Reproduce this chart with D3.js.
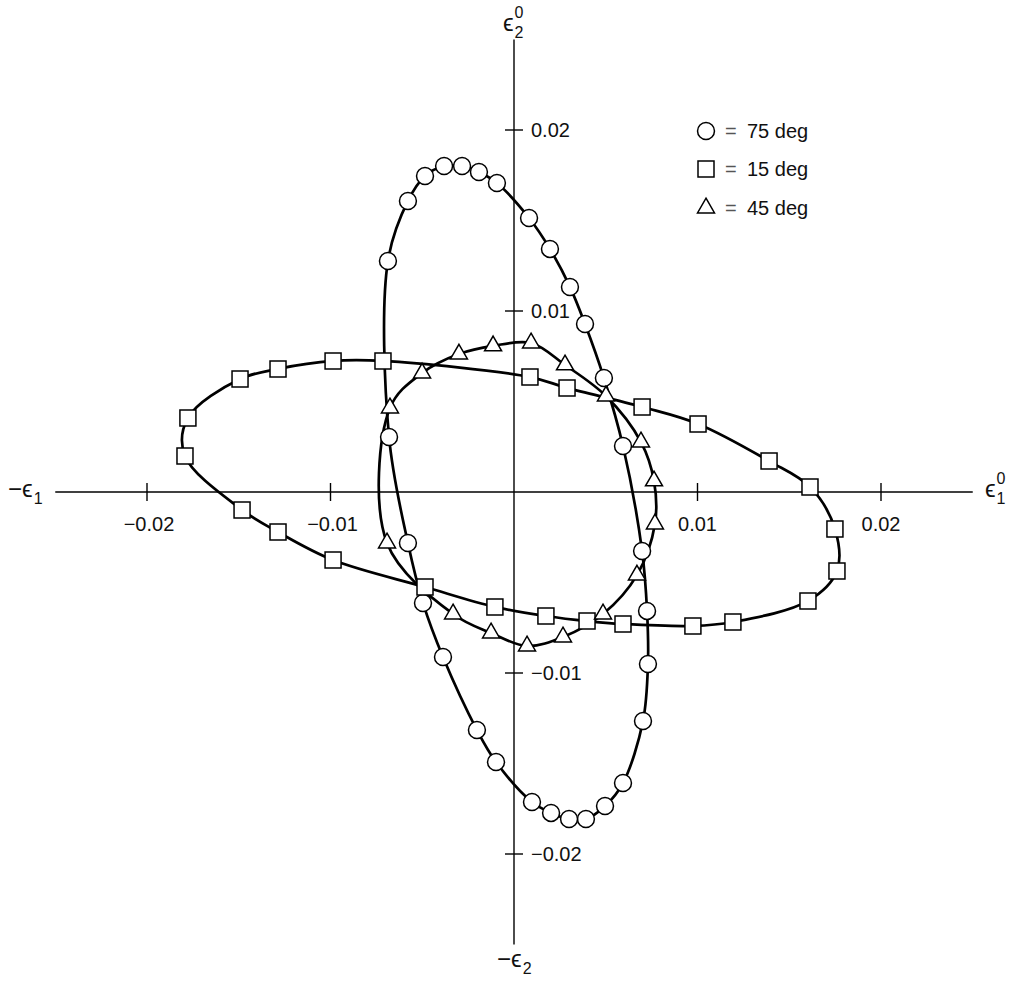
<!DOCTYPE html>
<html>
<head>
<meta charset="utf-8">
<script src="https://cdn.jsdelivr.net/npm/d3@7"></script>
<style>
  body { margin: 0; background: #fff; }
  svg { display: block; font-family: "Liberation Sans", Arial, sans-serif; }
  .curve { fill: none; stroke: #000; stroke-width: 2.7; }
  .marker { fill: #fff; stroke: #000; stroke-width: 1.5; }
  .axis-line { stroke: #000; stroke-width: 1.4; }
  .tick-label, .legend-label { font-size: 20px; fill: #111; }
  .legend-eq { font-size: 20px; fill: #555; }
  .axis-name { font-size: 24px; fill: #111; }
  .axis-idx { font-size: 16px; fill: #111; }
</style>
</head>
<body>
<svg id="chart" width="1013" height="981"></svg>
<script>
// ---------- data (strain values)

// circles, 75 deg
const DEG75_X = [-0.00687, -0.00578, -0.00485, -0.00381, -0.00283, -0.00191, -0.00093, 0.00082, 0.00196, 0.00305,
  0.00387, 0.00490, 0.00594, 0.00698, 0.00725, 0.00730, 0.00703, 0.00594, 0.00496, 0.00392,
  0.00300, 0.00202, 0.00098, -0.00098, -0.00202, -0.00387, -0.00496, -0.00578, -0.00681];
const DEG75_Y = [0.01276, 0.01608, 0.01746, 0.01801, 0.01801, 0.01768, 0.01707, 0.01514, 0.01343, 0.01133,
  0.00928, 0.00630, 0.00254, -0.00326, -0.00657, -0.00950, -0.01265, -0.01608, -0.01735, -0.01807,
  -0.01807, -0.01773, -0.01713, -0.01492, -0.01315, -0.00912, -0.00613, -0.00282, 0.00304];

// squares, 15 deg
const DEG15_X = [-0.01793, -0.01777, -0.01493, -0.01286, -0.00986, -0.00714, 0.00087, 0.00289, 0.00698, 0.01003,
  0.01390, 0.01613, 0.01749, 0.01760, 0.01602, 0.01193, 0.00975, 0.00594, 0.00398, 0.00174,
  -0.00104, -0.00485, -0.00986, -0.01286, -0.01482];
const DEG15_Y = [0.00199, 0.00409, 0.00624, 0.00680, 0.00724, 0.00724, 0.00635, 0.00575, 0.00470, 0.00376,
  0.00171, 0.00028, -0.00204, -0.00436, -0.00602, -0.00718, -0.00740, -0.00729, -0.00713, -0.00685,
  -0.00635, -0.00525, -0.00376, -0.00221, -0.00099];

// triangles, 45 deg
const DEG45_X = [-0.00692, -0.00676, -0.00501, -0.00300, -0.00114, 0.00093, 0.00278, 0.00501, 0.00692, 0.00763,
  0.00768, 0.00670, 0.00485, 0.00267, 0.00071, -0.00125, -0.00332];
const DEG45_Y = [-0.00282, 0.00464, 0.00657, 0.00762, 0.00807, 0.00823, 0.00702, 0.00530, 0.00276, 0.00061,
  -0.00177, -0.00459, -0.00674, -0.00801, -0.00851, -0.00779, -0.00674];

const X_TICKS = [-0.02, -0.01, 0.01, 0.02];
const Y_TICKS = [-0.02, -0.01, 0.01, 0.02];
const LEGEND_LABELS = ["75 deg", "15 deg", "45 deg"];
const AXIS_EXTENT = 0.025;

// ---------- layout

const TICK_HALF = 9;

const x = d3.scaleLinear().domain([-0.02, 0.02]).range([147, 881]);
const y = d3.scaleLinear().domain([-0.02, 0.02]).range([854, 130]);

const svg = d3.select("#chart");

function fmt(v) {
  const s = d3.format(".2f")(Math.abs(v));
  return v < 0 ? "\u2212" + s : s;
}

// ---------- axes

svg.append("line").attr("class", "axis-line")
  .attr("x1", x(-AXIS_EXTENT)).attr("x2", x(AXIS_EXTENT))
  .attr("y1", y(0)).attr("y2", y(0));
svg.append("line").attr("class", "axis-line")
  .attr("x1", x(0)).attr("x2", x(0))
  .attr("y1", y(AXIS_EXTENT)).attr("y2", y(-AXIS_EXTENT));

svg.selectAll(".xtick").data(X_TICKS).enter().append("line")
  .attr("class", "axis-line xtick")
  .attr("x1", d => x(d)).attr("x2", d => x(d))
  .attr("y1", y(0) - TICK_HALF).attr("y2", y(0) + TICK_HALF);

svg.selectAll(".xlabel").data(X_TICKS).enter().append("text")
  .attr("class", "tick-label xlabel")
  .attr("x", d => x(d) + (d < 0 ? 2 : 0))
  .attr("y", y(0) + 39)
  .attr("text-anchor", "middle")
  .text(fmt);

svg.selectAll(".ytick").data(Y_TICKS).enter().append("line")
  .attr("class", "axis-line ytick")
  .attr("x1", x(0) - TICK_HALF).attr("x2", x(0) + TICK_HALF)
  .attr("y1", d => y(d)).attr("y2", d => y(d));

svg.selectAll(".ylabel").data(Y_TICKS).enter().append("text")
  .attr("class", "tick-label ylabel")
  .attr("x", x(0) + 17)
  .attr("y", d => y(d) + 7)
  .text(fmt);

// axis names: epsilon with stacked sub/superscripts
function axisName(px, py, prefix, sub, sup) {
  const g = svg.append("g").attr("transform", `translate(${px},${py})`);
  const t = g.append("text").attr("class", "axis-name").attr("x", 0).attr("y", 0)
    .text(prefix + "\u03f5");
  const w = t.node().getComputedTextLength();
  g.append("text").attr("class", "axis-idx").attr("x", w + 1).attr("y", 7).text(sub);
  if (sup) g.append("text").attr("class", "axis-idx").attr("x", w + 1).attr("y", -13).text(sup);
}
axisName(8, 497, "\u2212", "1");
axisName(985, 497, "", "1", "0");
axisName(503, 31, "", "2", "0");
axisName(497, 967, "\u2212", "2");

// ---------- curves and markers

const series = [
  { xs: DEG75_X, ys: DEG75_Y, shape: d3.symbolCircle, size: 225 },
  { xs: DEG15_X, ys: DEG15_Y, shape: d3.symbolSquare, size: 256 },
  { xs: DEG45_X, ys: DEG45_Y, shape: d3.symbolTriangle, size: 125 },
];

const line = d3.line()
  .x(d => x(d[0]))
  .y(d => y(d[1]))
  .curve(d3.curveCatmullRomClosed.alpha(0.5));

series.forEach(s => { s.points = s.xs.map((v, i) => [v, s.ys[i]]); });

svg.selectAll(".curve").data(series).enter().append("path")
  .attr("class", "curve")
  .attr("d", s => line(s.points));

series.forEach(s => {
  svg.append("g").selectAll("path").data(s.points).enter().append("path")
    .attr("class", "marker")
    .attr("transform", d => `translate(${x(d[0])},${y(d[1])})`)
    .attr("d", d3.symbol().type(s.shape).size(s.size));
});

// ---------- legend

const legend = svg.append("g").attr("transform", "translate(706,131)");
series.forEach((s, i) => {
  const row = legend.append("g").attr("transform", `translate(0,${[0, 38, 77][i]})`);
  row.append("path").attr("class", "marker")
    .attr("d", d3.symbol().type(s.shape).size(s.size)());
  row.append("text").attr("class", "legend-eq")
    .attr("x", 19).attr("y", 7)
    .text("=");
  row.append("text").attr("class", "legend-label")
    .attr("x", 41).attr("y", 7)
    .text(LEGEND_LABELS[i]);
});
</script>
</body>
</html>
